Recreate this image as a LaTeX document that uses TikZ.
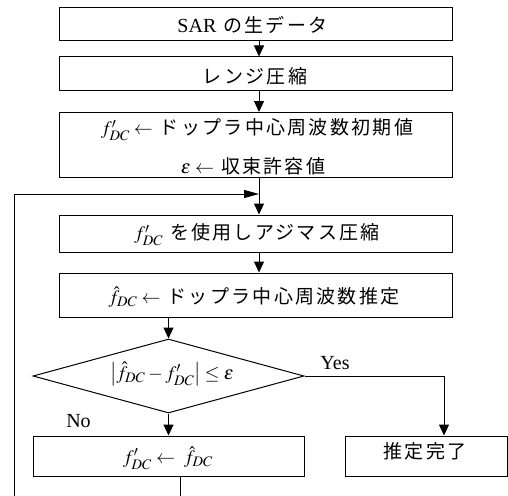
\documentclass[tikz,border=0pt]{standalone}
\usepackage{mathptmx}
\usepackage{fontspec}
\setmainfont{Liberation Serif}
\newfontfamily\jp[LetterSpace=12]{Noto Sans CJK JP}
\DeclareMathSizes{19}{19}{14.5}{11}
\usetikzlibrary{arrows.meta,shapes.geometric}
\newcommand{\gap}{\hspace{7pt}}
\newcommand{\lat}{\fontsize{20}{22}\selectfont}

\begin{document}
\begin{tikzpicture}[x=1pt,y=-1pt,line width=1pt,
  every node/.style={font=\fontsize{19}{22}\selectfont,inner sep=0pt},
  box/.style={draw},
  arr/.style={-{Triangle[length=11pt,width=10pt]}},
  longarr/.style={-{Triangle[length=15pt,width=8pt]}}]
\useasboundingbox (0,0) rectangle (508,495);

% boxes of the main column
\node[box,minimum width=393pt,minimum height=33pt] (raw)   at (255.5,24.5) {};
\node[box,minimum width=393pt,minimum height=33pt] (range) at (255.5,73.5) {};
\node[box,minimum width=393pt,minimum height=65pt] (init)  at (255.5,145) {};
\node[box,minimum width=393pt,minimum height=37pt] (azim)  at (255.5,233.5) {};
\node[box,minimum width=393pt,minimum height=44pt] (est)   at (255.5,295) {};

% decision and the two outcomes
\node[draw,diamond,aspect=3.66,minimum width=271pt,minimum height=74pt] (test) at (168.5,376) {};
\node[box,minimum width=271pt,minimum height=40pt] (upd)  at (168.5,456) {};
\node[box,minimum width=162pt,minimum height=40pt] (done) at (426.5,456) {};

% texts
\node (traw)   at (252.5,25) {{\lat SAR}\gap{\jp の生データ}};
\node (trange) at (255,76)   {{\jp レンジ圧縮}};
\node (tinit1) at (257,130)  {$f'_{DC}\leftarrow$\gap{\jp ドップラ中心周波数初期値}};
\node (tinit2) at (253,166)  {$\varepsilon\leftarrow$\gap{\jp 収束許容値}};
\node (tazim)  at (257,235)  {$f'_{DC}$\gap{\jp を使用しアジマス圧縮}};
\node (test1)  at (254,297)  {$\hat{f}_{DC}\leftarrow$\gap{\jp ドップラ中心周波数推定}};
\node (ttest)  at (172,374)  {$\left|\hat{f}_{DC}-f'_{DC}\right|\le\varepsilon$};
\node (tupd)   at (168,458)  {$f'_{DC}\leftarrow\ \hat{f}_{DC}$};
\node (tdone)  at (425,451)  {{\jp 推定完了}};
\node[font=\lat] (yes) at (335,363) {Yes};
\node[font=\lat] (no)  at (78.5,421) {No};

% connectors
\coordinate (cx) at (259,0);
\coordinate (loopL) at (14,194);
\coordinate (loopB) at (14,496);
\coordinate (updB) at (180,496);
\coordinate (yesC) at (444,376);

\draw[arr] (raw.south -| cx) -- (range.north -| cx);
\draw[arr] (range.south -| cx) -- (init.north -| cx);
\draw[arr] (init.south -| cx) -- (azim.north -| cx);
\draw[arr] (azim.south -| cx) -- (est.north -| cx);
\draw[arr] (est.south -| test.north) -- (test.north);
\draw[arr] (test.south) -- (upd.north -| test.south);
\draw[arr] (test.east) -- (yesC) -- (done.north -| yesC);
\draw (upd.south -| updB) -- (updB);
\draw[longarr] (loopB) -- (loopL) -- (loopL -| cx);
\end{tikzpicture}
\end{document}
